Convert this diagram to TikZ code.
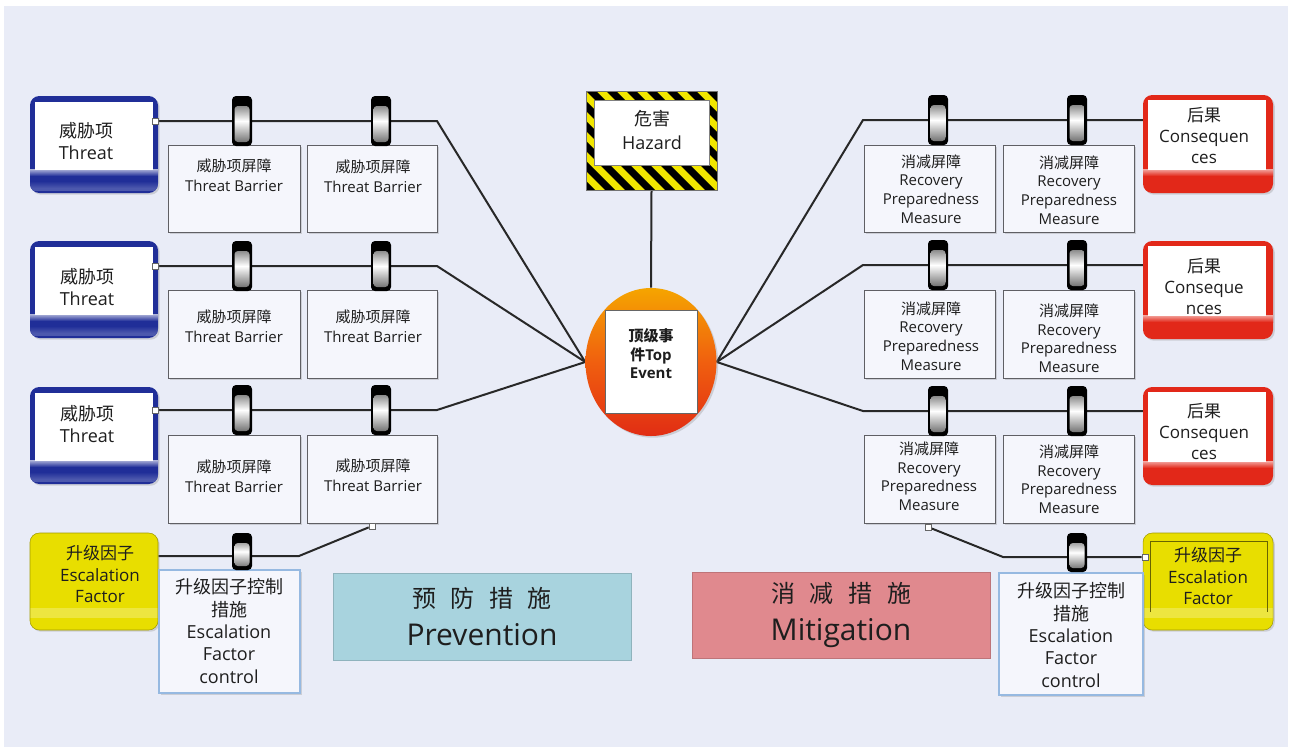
\documentclass[tikz,border=0pt]{standalone}
\usepackage{fontspec}
\setmainfont{Open Sans}
\newfontfamily\cjk{Noto Sans CJK SC}
\usetikzlibrary{calc,fit,shadows,shapes.geometric}
\pgfdeclarelayer{panel}
\pgfdeclarelayer{wires}
\pgfsetlayers{panel,wires,main}

\definecolor{panelbg}{RGB}{233,236,247}
\definecolor{boxfill}{RGB}{245,246,252}
\definecolor{boxedge}{RGB}{95,95,100}
\definecolor{ctrlblue}{RGB}{150,185,225}
\definecolor{threatblue}{RGB}{32,46,152}
\definecolor{conred}{RGB}{226,40,25}
\definecolor{factoryellow}{RGB}{232,222,0}
\definecolor{hazyellow}{RGB}{242,230,0}
\definecolor{prevcol}{RGB}{168,211,222}
\definecolor{mitcol}{RGB}{224,137,142}
\definecolor{wire}{RGB}{40,40,40}
\definecolor{ink}{RGB}{30,30,30}
\definecolor{teTop}{RGB}{245,165,0}
\definecolor{teMid}{RGB}{240,95,15}
\definecolor{teBot}{RGB}{225,45,20}

\newcommand\fz[2]{\fontsize{#1}{#2}\selectfont}

\begin{document}
\begin{tikzpicture}[x=0.75pt,y=-0.75pt,
  link/.style={draw=wire, line width=1.5pt},
  lbl/.style={align=center, text=ink, inner sep=0pt},
  shadowed/.style={drop shadow={shadow xshift=1.3pt, shadow yshift=-1.3pt, opacity=0.28}},
  bbox/.style={draw=boxedge, line width=0.7pt, fill=boxfill, inner sep=0pt, shadowed},
  ctrl/.style={draw=ctrlblue, line width=0.9pt, fill=boxfill, inner sep=0pt, shadowed},
  port/.style={draw=black!60, fill=white, minimum size=4.5pt, inner sep=0pt, line width=0.5pt},
  threat/.style={fill=threatblue, rounded corners=7pt, inner sep=0pt, shadowed,
    path picture={
      \coordinate (nw) at (path picture bounding box.north west);
      \coordinate (se) at (path picture bounding box.south east);
      \shade[sharp corners, top color=threatblue!35!white, bottom color=threatblue]
        ($(nw |- se)+(0,-24)$) rectangle ($(se)+(0,-17)$);
      \shade[sharp corners, top color=threatblue, bottom color=threatblue!80!white]
        ($(nw |- se)+(0,-12)$) rectangle ($(se)+(0,-5)$);
      \fill[sharp corners, threatblue!80!white] ($(nw |- se)+(0,-5)$) rectangle ($(se)+(0,-2)$);
      \fill[sharp corners, white] ($(nw)+(5,6)$) rectangle ($(se)+(-5,-23)$);
    }},
  conseq/.style={fill=conred, rounded corners=7pt, inner sep=0pt, shadowed,
    path picture={
      \coordinate (nw) at (path picture bounding box.north west);
      \coordinate (se) at (path picture bounding box.south east);
      \shade[sharp corners, top color=conred!40!white, bottom color=conred]
        ($(nw |- se)+(0,-24)$) rectangle ($(se)+(0,-17)$);
      \fill[sharp corners, white] ($(nw)+(5,5)$) rectangle ($(se)+(-7,-23)$);
    }},
  factor/.style={fill=factoryellow, draw=factoryellow!70!black, line width=0.4pt,
    rounded corners=7pt, inner sep=0pt, shadowed,
    path picture={
      \coordinate (nw) at (path picture bounding box.north west);
      \coordinate (se) at (path picture bounding box.south east);
      \fill[sharp corners, white, opacity=0.25] ($(nw |- se)+(0,-22)$) rectangle ($(se)+(0,-12)$);
    }},
  barrier/.style={fill=black, rounded corners=3pt, inner sep=0pt,
    minimum width=15pt, minimum height=37.5pt,
    path picture={
      \shade[top color=black!75, bottom color=black!65, middle color=white, rounded corners=2.5pt]
        ($(path picture bounding box.north west)+(2.5,10)$) rectangle
        ($(path picture bounding box.south east)+(-2.5,-4)$);
    }},
  hazard/.style={fill=hazyellow, draw=black!55, line width=0.5pt, inner sep=0pt,
    path picture={
      \foreach \k in {0,...,12}
        \fill[black] ($(path picture bounding box.north west)+(\k*20-100,0)$)
          -- ++(10,0) -- ++(100,100) -- ++(-10,0) -- cycle;
      \fill[white] ($(path picture bounding box.north west)+(8,9)$) rectangle
        ($(path picture bounding box.south east)+(-8,-25)$);
      \draw[black!50, line width=0.4pt] ($(path picture bounding box.north west)+(8,9)$) rectangle
        ($(path picture bounding box.south east)+(-8,-25)$);
    }},
]

\useasboundingbox (0,0) rectangle (1291,747);
\begin{pgfonlayer}{panel}
  \fill[white] (0,0) rectangle (1291,747);
  \fill[panelbg] (4,6) rectangle (1288,747);
\end{pgfonlayer}

% ---------- threats (left) ----------
\node[threat, fit={(30,96)(158,193)}] (t1) {};
\node[threat, fit={(30,241)(158,338)}] (t2) {};
\node[threat, fit={(30,387)(158,484)}] (t3) {};
\node[lbl, font=\fz{13.5pt}{16.5pt}] (t1txt) at (86,141) {{\cjk 威胁项}\\Threat};
\node[lbl, font=\fz{13.5pt}{16.5pt}] (t2txt) at (87,287) {{\cjk 威胁项}\\Threat};
\node[lbl, font=\fz{13.5pt}{16.5pt}] (t3txt) at (87,424) {{\cjk 威胁项}\\Threat};

% threat barriers
\node[bbox, fit={(168,145)(300,232)}] (tb11) {};
\node[bbox, fit={(307,145)(437,232)}] (tb12) {};
\node[bbox, fit={(168,290)(300,378)}] (tb21) {};
\node[bbox, fit={(307,290)(437,378)}] (tb22) {};
\node[bbox, fit={(168,435)(300,523)}] (tb31) {};
\node[bbox, fit={(307,435)(437,523)}] (tb32) {};
\foreach \n/\x/\y in {tb11/234/175, tb12/373/176, tb21/234/326, tb22/373/326, tb31/234/476, tb32/373/475}
  \node[lbl, font=\fz{11.25pt}{15pt}] (\n txt) at (\x,\y) {{\cjk 威胁项屏障}\\Threat Barrier};

% ---------- consequences (right) ----------
\node[conseq, fit={(1143,95)(1273,193)}] (c1) {};
\node[conseq, fit={(1143,241)(1273,339)}] (c2) {};
\node[conseq, fit={(1143,387)(1273,485)}] (c3) {};
\node[lbl, font=\fz{12.75pt}{15.75pt}] (c1txt) at (1204,136) {{\cjk 后果}\\Consequen\\ces};
\node[lbl, font=\fz{12.75pt}{15.75pt}] (c2txt) at (1204,287) {{\cjk 后果}\\Conseque\\nces};
\node[lbl, font=\fz{12.75pt}{15.75pt}] (c3txt) at (1204,431) {{\cjk 后果}\\Consequen\\ces};

% recovery measures
\node[bbox, fit={(864,145)(995,232)}] (rm11) {};
\node[bbox, fit={(1003,145)(1134,232)}] (rm12) {};
\node[bbox, fit={(864,290)(995,378)}] (rm21) {};
\node[bbox, fit={(1003,290)(1134,378)}] (rm22) {};
\node[bbox, fit={(864,435)(995,523)}] (rm31) {};
\node[bbox, fit={(1003,435)(1134,523)}] (rm32) {};
\foreach \n/\x/\y in {rm11/931/189, rm12/1069/190, rm21/931/336, rm22/1069/338, rm31/929/476, rm32/1069/479}
  \node[lbl, font=\fz{11.25pt}{13.9pt}] (\n txt) at (\x,\y) {{\cjk 消减屏障}\\Recovery\\Preparedness\\Measure};

% ---------- hazard and top event ----------
\node[hazard, fit={(586,91)(717,190)}] (hz) {};
\node[lbl, font=\fz{13.5pt}{18pt}] (hztxt) at (652,130) {{\cjk 危害}\\Hazard};

\node[ellipse, minimum width=98.25pt, minimum height=111pt, inner sep=0pt,
  top color=teTop, bottom color=teBot, middle color=teMid, shadowed] (te) at (651,362) {};
\node[draw=black!60, fill=white, line width=0.6pt, inner sep=0pt, fit={(605,310)(697,413)}] (tebox) {};
\node[lbl, font=\bfseries\fz{11.25pt}{13.9pt}] (tetxt) at (651,354) {{\cjk 顶级事}\\{\cjk 件}Top\\Event};

% ---------- escalation factors ----------
\node[factor, fit={(30,533)(158,630)}] (ef1) {};
\node[lbl, font=\fz{12.75pt}{16.1pt}] (ef1txt) at (100,574) {{\cjk 升级因子}\\Escalation\\Factor};
\node[ctrl, fit={(159,570)(300,693)}] (ec1) {};
\node[lbl, font=\fz{13.5pt}{16.7pt}] (ec1txt) at (229,631) {{\cjk 升级因子控制}\\{\cjk 措施}\\Escalation\\Factor\\control};

\node[factor, fit={(1143,533)(1273,630)}] (ef2) {};
\draw[factoryellow!45!black, line width=0.5pt] (1150,612) -- (1150,541) -- (1267,541) -- (1267,612);
\node[lbl, font=\fz{12.75pt}{16.1pt}] (ef2txt) at (1208,576) {{\cjk 升级因子}\\Escalation\\Factor};
\node[ctrl, fit={(999,573)(1143,695)}] (ec2) {};
\node[lbl, font=\fz{13.5pt}{16.7pt}] (ec2txt) at (1071,635) {{\cjk 升级因子控制}\\{\cjk 措施}\\Escalation\\Factor\\control};

% ---------- section labels ----------
\node[fill=prevcol, draw=prevcol!85!black, line width=0.3pt, inner sep=0pt, fit={(333,573)(631,660)}] (pv) {};
\node[lbl, font=\fz{22.5pt}{28.5pt}] (pvtxt) at (482,617)
  {{\cjk\fz{18pt}{28.5pt}预\hspace{11pt}防\hspace{11pt}措\hspace{11pt}施}\\Prevention};
\node[fill=mitcol, draw=mitcol!85!black, line width=0.3pt, inner sep=0pt, fit={(692,572)(990,658)}] (mg) {};
\node[lbl, font=\fz{22.5pt}{28.5pt}] (mgtxt) at (841,615)
  {{\cjk\fz{18pt}{28.5pt}消\hspace{11pt}减\hspace{11pt}措\hspace{11pt}施}\\Mitigation};

% ---------- ports ----------
\node[port] (tp1) at (155,121) {};
\node[port] (tp2) at (155,266) {};
\node[port] (tp3) at (155,410) {};
\node[port] (pe1) at (372,526) {};
\node[port] (pe2) at (928,527) {};
\node[port] (pf2) at (1145,557) {};

% ---------- barriers ----------
\foreach \r/\yy in {1/121, 2/266, 3/410} {
  \node[barrier] (bl\r a) at (242,\yy) {};
  \node[barrier] (bl\r b) at (381,\yy) {};
}
\foreach \r/\yy in {1/120, 2/265, 3/411} {
  \node[barrier] (br\r a) at (938,\yy) {};
  \node[barrier] (br\r b) at (1077,\yy) {};
}
\node[barrier, minimum height=27.75pt] (ble) at (242,551.5) {};
\node[barrier, minimum height=29.25pt] (bre) at (1077,552.5) {};

% ---------- connectors ----------
\coordinate (lb1) at (437,121);
\coordinate (lb2) at (437,266);
\coordinate (lb3) at (437,410);
\coordinate (rb1) at (863,120);
\coordinate (rb2) at (863,265);
\coordinate (rb3) at (863,411);
\coordinate (le1) at (299,556);
\coordinate (re1) at (1003,557);
\begin{pgfonlayer}{wires}
  \draw[link] (tp1) -- (lb1) -- (te.west);
  \draw[link] (tp2) -- (lb2) -- (te.west);
  \draw[link] (tp3) -- (lb3) -- (te.west);
  \draw[link] (te.east) -- (rb1) -- (rb1 -| c1.west);
  \draw[link] (te.east) -- (rb2) -- (rb2 -| c2.west);
  \draw[link] (te.east) -- (rb3) -- (rb3 -| c3.west);
  \draw[link] (hz.south) -- (te.north);
  \draw[link] (pe1) -- (le1) -- (le1 -| ef1.east);
  \draw[link] (pe2) -- (re1) -- (pf2);
\end{pgfonlayer}

\end{tikzpicture}
\end{document}
